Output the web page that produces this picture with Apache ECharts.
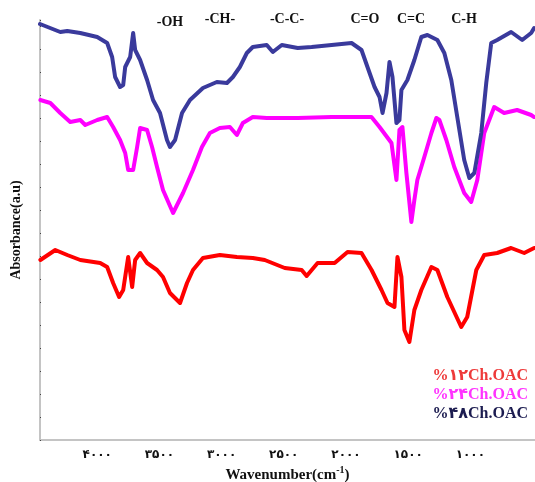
<!DOCTYPE html>
<html>
<head>
<meta charset="utf-8">
<script src="https://cdn.jsdelivr.net/npm/echarts@6/dist/echarts.min.js"></script>
<style>
html,body{margin:0;padding:0;background:#fff;}
#chart{width:535px;height:482px;}
</style>
</head>
<body>
<div id="chart"></div>
<script>
// ---- Data (wavenumber in cm-1, absorbance in arbitrary units, stacked offsets) ----
var seriesNames = ['%۱۲Ch.OAC', '%۲۴Ch.OAC', '%۴۸Ch.OAC'];
var seriesColors = ['#ff0000', '#ff00ff', '#3a3a9c'];
var legendColors = ['#ee3a3a', '#ff33ff', '#1c1c50'];

var tickValues = [4000, 3500, 3000, 2500, 2000, 1500, 1000];
var tickLabels = ['۴۰۰۰', '۳۵۰۰', '۳۰۰۰', '۲۵۰۰', '۲۰۰۰', '۱۵۰۰', '۱۰۰۰'];

var bandLabels = ['-OH', '-CH-', '-C-C-', 'C=O', 'C=C', 'C-H'];

// 48% (blue)
var wn48 = [4460,4297,4241,4136,4000,3920,3880,3856,3816,3791,3775,3735,3711,3695,3655,3599,3551,3495,3439,3415,3374,3318,3254,3150,3038,2957,2909,2853,2797,2749,2637,2588,2516,2388,2276,2115,1955,1875,1827,1770,1730,1706,1674,1650,1626,1594,1570,1554,1506,1450,1394,1345,1265,1209,1153,1105,1049,1008,968,912,872,832,784,672,583,511,487];
var ab48 = [416,408,409,407,403,397,383,363,353,355,373,383,407,390,380,360,340,327,300,293,300,327,340,352,358,357,363,373,387,393,395,388,395,392,393,395,397,390,373,353,343,327,347,378,363,317,320,350,360,380,403,405,400,387,360,323,280,262,267,307,357,397,400,408,400,407,412];

// 24% (magenta)
var wn24 = [4457,4377,4297,4217,4136,4096,4000,3920,3872,3816,3775,3751,3711,3679,3655,3599,3559,3519,3471,3390,3310,3230,3158,3094,3014,2933,2877,2829,2749,2637,2388,2115,1795,1730,1634,1594,1570,1546,1514,1474,1450,1426,1370,1313,1273,1249,1193,1129,1049,993,944,888,808,728,624,511,487];
var ab24 = [340,337,327,318,320,315,320,323,313,300,287,270,270,293,312,310,293,273,250,227,247,270,293,307,312,313,305,317,323,322,322,323,323,313,297,260,310,313,267,218,240,260,283,307,322,320,300,273,247,238,260,307,333,327,330,325,323];

// 12% (red)
var wn12 = [4457,4337,4241,4136,3976,3920,3872,3824,3791,3751,3719,3695,3655,3599,3519,3471,3415,3334,3278,3230,3150,3014,2877,2749,2653,2492,2356,2316,2228,2091,1987,1875,1794,1714,1666,1610,1586,1554,1530,1490,1450,1394,1313,1265,1185,1073,1025,952,888,784,672,567,487];
var ab12 = [180,190,185,180,177,173,157,143,150,183,153,180,187,177,170,163,147,137,157,170,182,185,183,182,180,172,170,164,177,177,188,187,170,150,137,133,183,163,110,98,130,150,173,170,143,113,123,170,185,187,192,187,192];

function zip(a, b) { return a.map(function (v, i) { return [v, b[i]]; }); }

var chart = echarts.init(document.getElementById('chart'));
var serif = '"Liberation Serif", "Times New Roman", "DejaVu Serif", serif';
var digitFont = '"Liberation Serif", "DejaVu Sans", "Noto Sans", sans-serif';

var dataSets = [zip(wn12, ab12), zip(wn24, ab24), zip(wn48, ab48)];

var series = dataSets.map(function (d, i) {
  return {
    name: seriesNames[i],
    type: 'line',
    data: d,
    showSymbol: false,
    symbol: 'none',
    smooth: false,
    lineStyle: { color: seriesColors[i], width: 4, join: 'round', cap: 'round' },
    z: 3 + i,
    animation: false
  };
});

var bandX = [170, 220, 287, 365, 411, 464];
var bandY = [22, 19, 19, 19, 19, 19];
var graphics = bandLabels.map(function (t, i) {
  return {
    type: 'text', x: bandX[i], y: bandY[i],
    style: { text: t, font: 'bold 14px ' + serif, fill: '#111', align: 'center', verticalAlign: 'middle' }
  };
});
var legY = [376, 395, 414];
seriesNames.forEach(function (n, i) {
  graphics.push({
    type: 'text', x: 528, y: legY[i],
    style: { text: n, font: 'bold 16px ' + digitFont, fill: legendColors[i], align: 'right', verticalAlign: 'middle' }
  });
});

chart.setOption({
  animation: false,
  backgroundColor: '#fff',
  grid: { left: 40, right: 0, top: 20, bottom: 42, containLabel: false, outerBoundsMode: 'none' },
  xAxis: {
    type: 'value',
    inverse: true,
    min: 480,
    max: 4460,
    interval: 20,
    splitLine: { show: false },
    axisLine: { show: true, onZero: false, lineStyle: { color: '#c4c4c4', width: 2 } },
    axisTick: { show: false },
    axisLabel: {
      margin: 9,
      color: '#111',
      fontWeight: 'bold',
      fontSize: 12,
      fontFamily: digitFont,
      showMinLabel: false,
      showMaxLabel: false,
      formatter: function (v) {
        var k = tickValues.indexOf(Math.round(v));
        return k >= 0 ? tickLabels[k] : '';
      }
    },
    name: '{a|Wavenumber(cm}{s|-1}{a|)}',
    nameLocation: 'middle',
    nameGap: 22,
    nameTextStyle: {
      rich: {
        a: { fontFamily: serif, fontWeight: 'bold', fontSize: 15, color: '#111' },
        s: { fontFamily: serif, fontWeight: 'bold', fontSize: 10, color: '#111', verticalAlign: 'top', padding: [0, 0, 8, 0] }
      }
    }
  },
  yAxis: {
    type: 'value',
    min: 0,
    max: 420,
    interval: 23,
    splitLine: { show: false },
    axisLine: { show: true, lineStyle: { color: '#c4c4c4', width: 2 } },
    axisTick: { show: true, inside: true, length: 2, lineStyle: { color: '#444', width: 1, type: 'dotted' } },
    axisLabel: { show: false },
    name: 'Absorbance(a.u)',
    nameLocation: 'middle',
    nameGap: 17,
    nameRotate: 90,
    nameTextStyle: { fontFamily: serif, fontWeight: 'bold', fontSize: 14, color: '#111' }
  },
  series: series,
  graphic: graphics
});
</script>
</body>
</html>
